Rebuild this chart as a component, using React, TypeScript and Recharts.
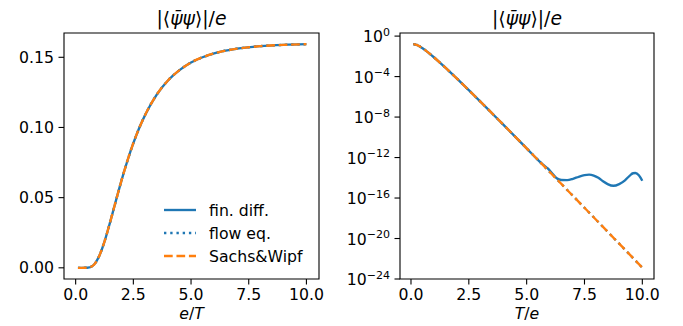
import React from "react";
import { LineChart, Line, XAxis, YAxis, ReferenceArea } from "recharts";

const FONT = "DejaVu Sans";
const BLUE = "#1f77b4";
const ORANGE = "#ff7f0e";
const FS = 15.7;

// left panel, x = e/T
const leftX = [0.1, 0.25, 0.5, 0.75, 1, 1.25, 1.5, 1.75, 2, 2.25, 2.5, 2.75, 3, 3.5, 4, 4.5, 5, 5.5, 6, 7, 8, 9, 10];
const leftSachsWipf = [1.3e-23, 1.7e-9, 0.00006, 0.00159, 0.00767, 0.01873, 0.03293, 0.04814, 0.063, 0.07663, 0.08882, 0.09948, 0.1086, 0.1231, 0.1335, 0.1409, 0.1463, 0.15005, 0.15277, 0.15614, 0.15791, 0.15884, 0.15934];
// fin. diff. and flow eq. lie on top of Sachs&Wipf here
const leftFinDiff = leftSachsWipf;
const leftFlowEq = leftSachsWipf;

// right panel, x = T/e (log y)
const rightX = [0.1, 0.15, 0.2, 0.25, 0.3, 0.35, 0.4, 0.5, 0.6, 0.75, 1, 1.25, 1.5, 1.75, 2, 2.5, 3, 3.5, 4, 4.5, 5, 5.5, 6, 6.5, 7, 7.5, 8, 8.5, 9, 9.5, 10];
const rightSachsWipf = [0.15934, 0.15524, 0.14626, 0.1335, 0.1188, 0.10356, 0.0888, 0.063, 0.04306, 0.02324, 0.00767, 0.002381, 0.000708, 2.054e-4, 5.83e-5, 4.5e-6, 3.34e-7, 2.4e-8, 1.7e-9, 1.18e-10, 8.1e-12, 5.51e-13, 3.71e-14, 2.48e-15, 1.65e-16, 1.09e-17, 7.21e-19, 4.73e-20, 3.1e-21, 2.02e-22, 1.31e-23];
const rightFlowEq = rightSachsWipf;

// fin. diff. hits its noise floor past T/e ~ 6
const finX = [0.1, 0.15, 0.2, 0.25, 0.3, 0.35, 0.4, 0.5, 0.6, 0.75, 1, 1.25, 1.5, 1.75, 2, 2.5, 3, 3.5, 4, 4.5, 5, 5.5, 5.75, 5.9, 6.1, 6.3, 6.5, 6.75, 7, 7.25, 7.5, 7.7, 7.9, 8.1, 8.3, 8.5, 8.75, 9, 9.25, 9.45, 9.6, 9.7, 9.85, 10];
const finValues = [0.15934, 0.15524, 0.14626, 0.1335, 0.1188, 0.10356, 0.0888, 0.063, 0.04306, 0.02324, 0.00767, 0.002381, 0.000708, 2.054e-4, 5.83e-5, 4.5e-6, 3.34e-7, 2.4e-8, 1.7e-9, 1.18e-10, 8.1e-12, 5.51e-13, 1.66e-13, 8.9e-14, 2.82e-14, 8.9e-15, 6.0e-15, 5.9e-15, 7.9e-15, 1.26e-14, 1.82e-14, 2.04e-14, 1.66e-14, 1.0e-14, 4.5e-15, 2.4e-15, 1.62e-15, 2.4e-15, 5.6e-15, 1.58e-14, 2.82e-14, 2.95e-14, 1.78e-14, 5.1e-15];

const xTicks = [0, 2.5, 5, 7.5, 10];
const leftYTicks = [0, 0.05, 0.1, 0.15];
const rightYTicks = [1e-24, 1e-20, 1e-16, 1e-12, 1e-8, 1e-4, 1];

const leftRows = leftX.map((x, i) => ({ x, fin: leftFinDiff[i], flow: leftFlowEq[i], sw: leftSachsWipf[i] }));
const rightRows = rightX.map((x, i) => ({ x, flow: rightFlowEq[i], sw: rightSachsWipf[i] }));
const finRows = finX.map((x, i) => ({ x, fin: finValues[i] }));

const tickStyle = { fill: "#000", fontSize: FS, fontFamily: FONT };
const tickLine = { stroke: "#000", strokeWidth: 1.1 };
const LW = 2.35;

function PowerTick(props: any) {
  const { x, y, payload } = props;
  const e = Math.round(Math.log10(payload.value));
  const sup = e === 0 ? "0" : "\u2212" + Math.abs(e);
  return (
    <text x={x} y={y + 6} textAnchor="end" fontFamily={FONT} fontSize={FS} fill="#000">
      <tspan>10</tspan>
      <tspan dy={-6.5} fontSize={11}>{sup}</tspan>
    </text>
  );
}

function Title({ x }: { x: number }) {
  return (
    <text x={x} y={25} textAnchor="middle" fontFamily={FONT} fontSize={18.8} fill="#000">
      <tspan>|⟨</tspan>
      <tspan fontStyle="italic">ψ̄ψ</tspan>
      <tspan>⟩|/</tspan>
      <tspan fontStyle="italic">e</tspan>
    </text>
  );
}

export default function App() {
  const leftDomX = [-0.505, 10.545];
  const leftDomY = [-0.00797, 0.16731];
  const rightDomX = [-0.475, 10.505];
  const rightDomY = [1e-24, Math.pow(10, 0.306)];
  return (
    <div style={{ position: "absolute", left: 0, top: 0, width: 683, height: 326, background: "#fff" }}>
      <div style={{ position: "absolute", left: 0, top: 0 }}>
        <LineChart width={340} height={326} data={leftRows} margin={{ top: 33, right: 21, bottom: 0, left: 0 }}>
          <XAxis dataKey="x" type="number" domain={leftDomX} allowDataOverflow ticks={xTicks} interval={0}
            tickFormatter={(v: number) => v.toFixed(1)} height={47} tick={tickStyle} tickLine={tickLine}
            tickSize={5.5} tickMargin={4.8} axisLine={false} />
          <YAxis type="number" domain={leftDomY} allowDataOverflow ticks={leftYTicks} interval={0}
            tickFormatter={(v: number) => v.toFixed(2)} width={64} tick={tickStyle} tickLine={tickLine}
            tickSize={5.5} tickMargin={4.5} axisLine={false} />
          <Line dataKey="fin" stroke={BLUE} strokeWidth={LW} dot={false} type="monotone" isAnimationActive={false} />
          <Line dataKey="flow" stroke={BLUE} strokeWidth={LW} strokeDasharray="2.35 3.88" dot={false} type="monotone" isAnimationActive={false} />
          <Line dataKey="sw" stroke={ORANGE} strokeWidth={LW} strokeDasharray="8.7 3.76" dot={false} type="monotone" isAnimationActive={false} />
          <ReferenceArea x1={leftDomX[0]} x2={leftDomX[1]} y1={leftDomY[0]} y2={leftDomY[1]} fill="none" stroke="#000" strokeWidth={1.1} />
        </LineChart>
      </div>
      <div style={{ position: "absolute", left: 340, top: 0 }}>
        <LineChart width={343} height={326} margin={{ top: 33, right: 29, bottom: 0, left: 0 }}>
          <XAxis dataKey="x" type="number" domain={rightDomX} allowDataOverflow ticks={xTicks} interval={0}
            tickFormatter={(v: number) => v.toFixed(1)} height={47} tick={tickStyle} tickLine={tickLine}
            tickSize={5.5} tickMargin={4.8} axisLine={false} />
          <YAxis type="number" scale="log" domain={rightDomY} allowDataOverflow ticks={rightYTicks} interval={0}
            width={60} tick={<PowerTick />} tickLine={tickLine} tickSize={5.5} tickMargin={4.5} axisLine={false} />
          <Line data={finRows} dataKey="fin" stroke={BLUE} strokeWidth={LW} dot={false} type="monotone" isAnimationActive={false} />
          <Line data={rightRows} dataKey="flow" stroke={BLUE} strokeWidth={LW} strokeDasharray="2.35 3.88" dot={false} type="monotone" isAnimationActive={false} />
          <Line data={rightRows} dataKey="sw" stroke={ORANGE} strokeWidth={LW} strokeDasharray="8.7 3.76" dot={false} type="monotone" isAnimationActive={false} />
          <ReferenceArea x1={rightDomX[0]} x2={rightDomX[1]} y1={rightDomY[0]} y2={rightDomY[1]} fill="none" stroke="#000" strokeWidth={1.1} />
        </LineChart>
      </div>
      <svg width={683} height={326} style={{ position: "absolute", left: 0, top: 0, pointerEvents: "none" }}>
        <Title x={191.5} />
        <Title x={527} />
        <text x={191.5} y={319} textAnchor="middle" fontFamily={FONT} fontSize={FS} fill="#000">
          <tspan fontStyle="italic">e</tspan><tspan>/</tspan><tspan fontStyle="italic">T</tspan>
        </text>
        <text x={527} y={319} textAnchor="middle" fontFamily={FONT} fontSize={FS} fill="#000">
          <tspan fontStyle="italic">T</tspan><tspan>/</tspan><tspan fontStyle="italic">e</tspan>
        </text>
        <g fontFamily={FONT} fontSize={FS} fill="#000">
          <line x1={164} x2={196} y1={210} y2={210} stroke={BLUE} strokeWidth={LW} />
          <text x={209} y={215.5}>fin. diff.</text>
          <line x1={164} x2={196} y1={233} y2={233} stroke={BLUE} strokeWidth={LW} strokeDasharray="2.35 3.88" />
          <text x={209} y={238.5}>flow eq.</text>
          <line x1={164} x2={196} y1={256} y2={256} stroke={ORANGE} strokeWidth={LW} strokeDasharray="8.7 3.76" />
          <text x={209} y={261.5}>Sachs&amp;Wipf</text>
        </g>
      </svg>
    </div>
  );
}
